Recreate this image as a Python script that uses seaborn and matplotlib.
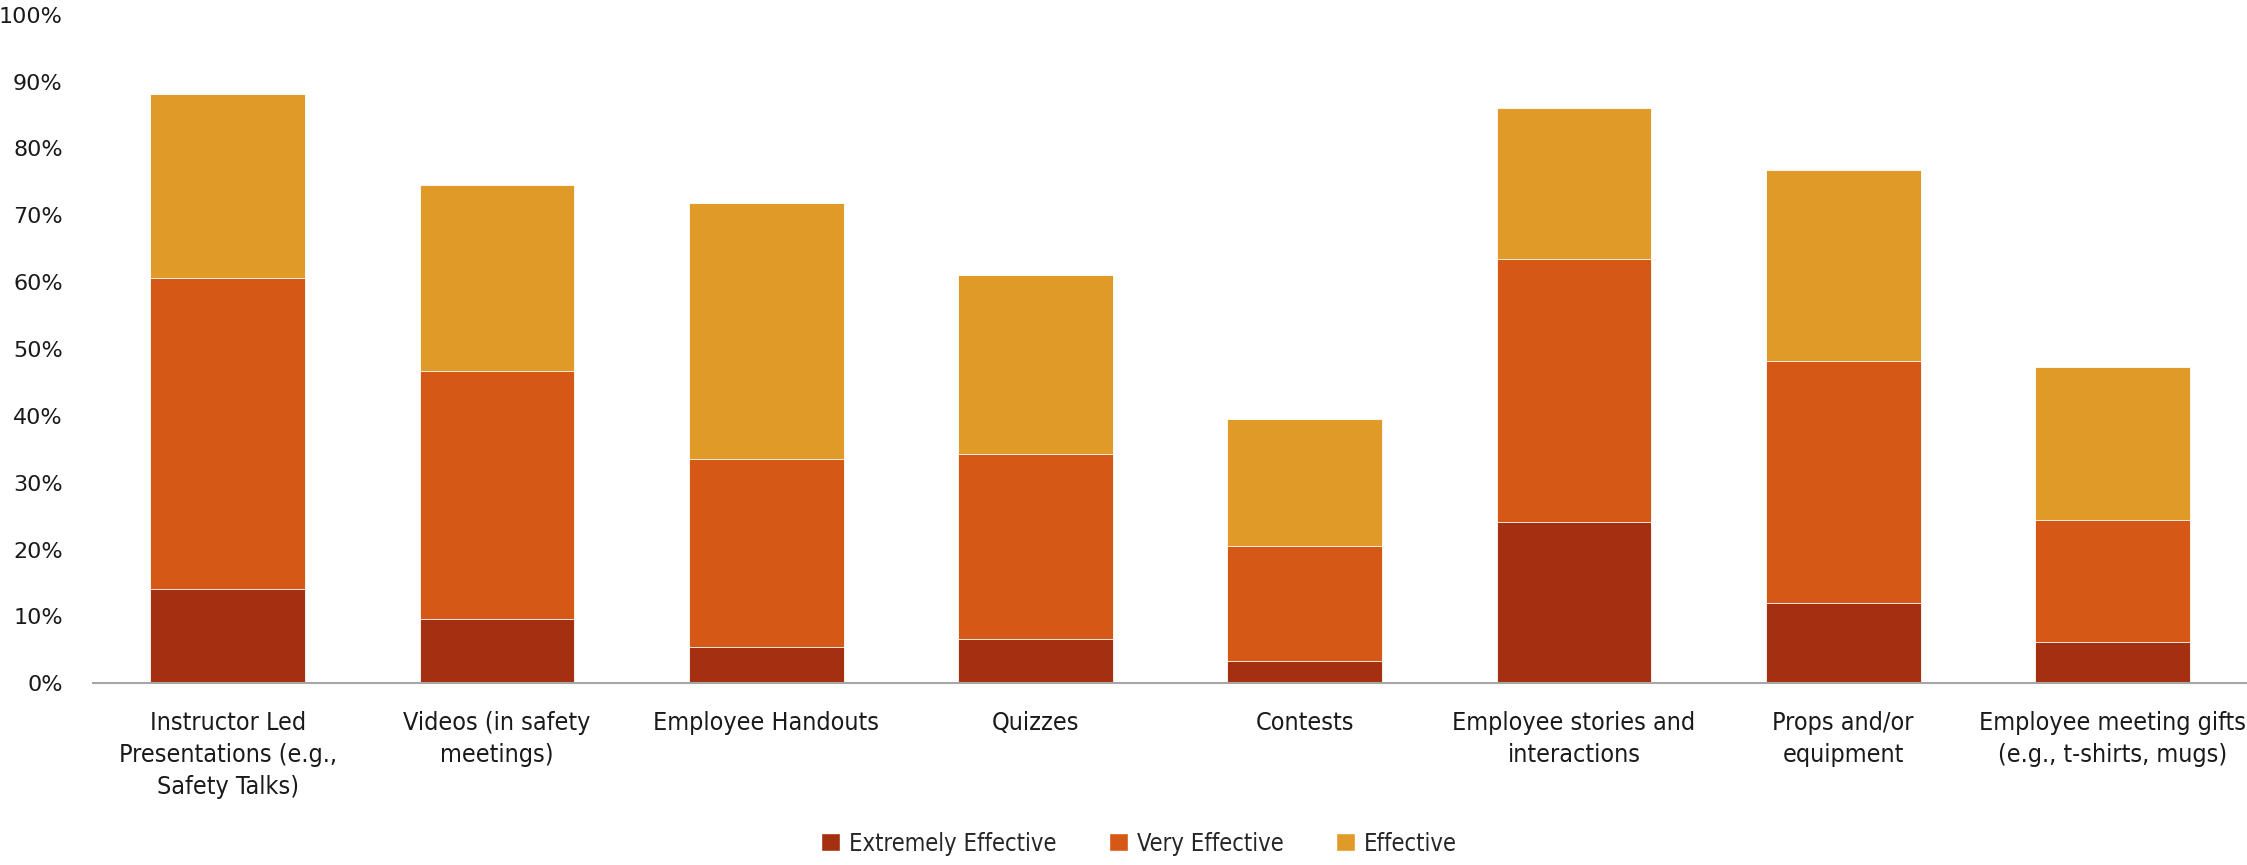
import matplotlib
matplotlib.use("Agg")
import matplotlib.pyplot as plt
import seaborn as sns
import pandas as pd
import numpy as np
from matplotlib.ticker import PercentFormatter
from matplotlib.patches import Patch
from matplotlib.font_manager import FontProperties

categories = [
    "Instructor Led\nPresentations (e.g.,\nSafety Talks)",
    "Videos (in safety\nmeetings)",
    "Employee Handouts",
    "Quizzes",
    "Contests",
    "Employee stories and\ninteractions",
    "Props and/or\nequipment",
    "Employee meeting gifts\n(e.g., t-shirts, mugs)",
]
extremely_effective = [14.1, 9.6, 5.4, 6.6, 3.4, 24.2, 12.0, 6.2]
very_effective = [46.5, 37.1, 28.2, 27.7, 17.2, 39.2, 36.2, 18.2]
effective = [27.6, 27.8, 38.3, 26.7, 19.0, 22.7, 28.5, 22.9]

series_names = ["Extremely Effective", "Very Effective", "Effective"]
colors = ["#A52F11", "#D55816", "#E09A28"]

df = pd.DataFrame({
    "category": categories,
    "Extremely Effective": extremely_effective,
    "Very Effective": very_effective,
    "Effective": effective,
})
# cumulative tops for stacking (draw tallest first, then overlay)
df["top_ext"] = df["Extremely Effective"]
df["top_very"] = df["top_ext"] + df["Very Effective"]
df["top_eff"] = df["top_very"] + df["Effective"]

sns.set_theme(style="white")
plt.rcParams["font.family"] = ["DejaVu Sans"]

fig, ax = plt.subplots(figsize=(22.47, 8.65), dpi=100)
fig.subplots_adjust(left=0.0415, right=1.0, top=0.983, bottom=0.21)

width = 0.575
layers = [("top_eff", colors[2]), ("top_very", colors[1]), ("top_ext", colors[0])]
for col, c in layers:
    sns.barplot(data=df, x="category", y=col, color=c, width=width,
                saturation=1, ax=ax, edgecolor="white", linewidth=0.6)

ax.set_xlim(-0.5, len(categories) - 0.5)
ax.set_ylim(0, 100)
ax.set_yticks(np.arange(0, 101, 10))
ax.yaxis.set_major_formatter(PercentFormatter(decimals=0))
ax.set_xlabel("")
ax.set_ylabel("")

for s in ["top", "right", "left"]:
    ax.spines[s].set_visible(False)
ax.spines["bottom"].set_color("#A6A6A6")
ax.spines["bottom"].set_linewidth(1.5)

ax.tick_params(axis="y", length=0, pad=22, labelsize=16, labelcolor="#1a1a1a")
ax.tick_params(axis="x", length=0, pad=20)

narrow = FontProperties(family="DejaVu Sans", stretch="condensed", size=18)
for lbl in ax.get_xticklabels():
    lbl.set_fontproperties(narrow)
    lbl.set_linespacing(1.42)
    lbl.set_verticalalignment("top")
    lbl.set_color("#1a1a1a")

handles = [Patch(facecolor=c, label=n) for c, n in zip(colors, series_names)]
leg_font = FontProperties(family="DejaVu Sans", stretch="condensed", size=17)
fig.legend(handles=handles, loc="lower center", bbox_to_anchor=(0.507, 0.0),
           ncol=3, frameon=False, handlelength=0.8, handleheight=0.8,
           columnspacing=2.2, handletextpad=0.4, borderaxespad=0.0,
           prop=leg_font)

fig.savefig("out.png", dpi=100)
